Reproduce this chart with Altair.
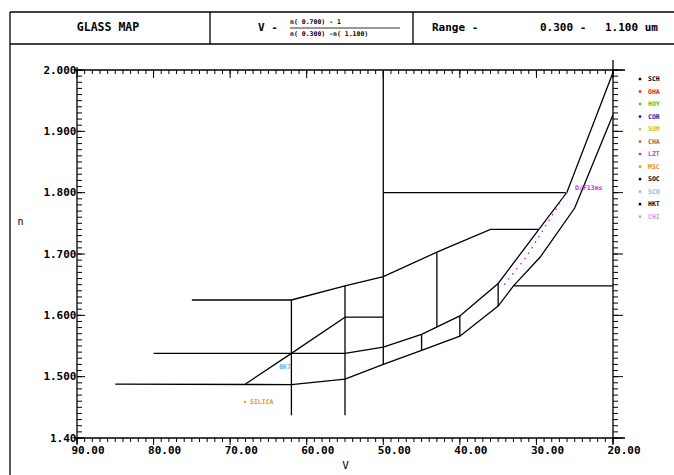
import altair as alt
import pandas as pd
import numpy as np

# ---------------- data ----------------
upper_v = [75, 62, 55, 50, 43, 36, 29.7]
upper_n = [1.625, 1.625, 1.648, 1.663, 1.703, 1.740, 1.740]
middle_v = [80, 62, 55, 50, 45, 40, 35, 26, 20]
middle_n = [1.538, 1.538, 1.538, 1.548, 1.569, 1.599, 1.652, 1.801, 1.996]
lower_v = [85, 62, 55, 50, 45, 40, 35, 33, 29.5, 25, 20]
lower_n = [1.488, 1.487, 1.496, 1.520, 1.543, 1.566, 1.615, 1.648, 1.695, 1.775, 1.927]
diag_v = [68, 62, 55]
diag_n = [1.488, 1.538, 1.597]
vert_v = [62, 55, 50, 45, 40, 35, 43]
vert_top = [1.625, 1.648, 2.000, 1.569, 1.599, 1.652, 1.703]
vert_bot = [1.437, 1.437, 1.520, 1.543, 1.566, 1.615, 1.581]
horiz_n = [1.800, 1.597, 1.648]
horiz_v1 = [50, 55, 33]
horiz_v2 = [26, 50, 20]

flint_v = [34.2, 31.3, 25.8]
flint_n = [1.650, 1.6955, 1.806]

glass_names = ["BK7", "SILICA", "D/F13ms"]
glass_v = [64.25, 68.06, 25.6]
glass_n = [1.5155, 1.459, 1.8075]
glass_colors = ["#6aaae8", "#e8902a", "#d42ad4"]

catalogs = ["SCH", "OHA", "HOY", "COR", "SUM", "CHA", "LZT", "MSC", "SOC", "SCO", "HKT", "CHI"]
catalog_colors = ["#000000", "#e02020", "#30d030", "#1818c8", "#c8c030", "#a06838",
                  "#d030d0", "#f08a28", "#000000", "#80b8f0", "#000000", "#c898e8"]

v_major = [90, 80, 70, 60, 50, 40, 30, 20]
n_major = [2.0, 1.9, 1.8, 1.7, 1.6, 1.5, 1.4]
v_minor = list(range(20, 91))
n_minor = [round(x, 2) for x in np.arange(1.40, 2.0001, 0.01)]

header_left = "GLASS MAP"
header_num = "n( 0.700)   - 1"
header_den = "n( 0.300) -n( 1.100)"
header_range = ["Range -", "0.300 -", "1.100 um"]

# ---------------- build tables ----------------
rows = []
def add(seg, vs, ns):
    for i, (v, n) in enumerate(zip(vs, ns)):
        rows.append({"seg": seg, "o": i, "V": v, "n": n})

add("upper", upper_v, upper_n)
add("middle", middle_v, middle_n)
add("lower", lower_v, lower_n)
add("diag", diag_v, diag_n)
for k in range(len(vert_v)):
    add(f"v{k}", [vert_v[k], vert_v[k]], [vert_top[k], vert_bot[k]])
for k in range(len(horiz_n)):
    add(f"h{k}", [horiz_v1[k], horiz_v2[k]], [horiz_n[k], horiz_n[k]])
lines_df = pd.DataFrame(rows)

W, H = 536, 368
FONT = "DejaVu Sans Mono"

xs = alt.Scale(domain=[20, 90], reverse=True, nice=False, zero=False)
ys = alt.Scale(domain=[1.4, 2.0], nice=False, zero=False)

xaxis = alt.Axis(values=v_major, format=".2f", grid=False, domain=False, ticks=False,
                 labelFont=FONT, labelFontSize=11, labelFontWeight="bold", labelColor="#000",
                 labelAlign="left", labelOffset=-6, labelPadding=6,
                 title="V", titleFont=FONT, titleFontSize=11, titleFontWeight="normal",
                 titlePadding=4)
yaxis = alt.Axis(values=n_major, grid=False, domain=False, ticks=False,
                 labelExpr="datum.value < 1.45 ? '1.40' : format(datum.value, '.3f')",
                 labelFont=FONT, labelFontSize=11, labelFontWeight="bold", labelColor="#000",
                 labelPadding=1,
                 title="n", titleFont=FONT, titleFontSize=10, titleFontWeight="normal",
                 titleAngle=0, titleX=-57, titleY=156)

lines = alt.Chart(lines_df).mark_line(color="black", strokeWidth=1.3).encode(
    x=alt.X("V:Q", scale=xs, axis=xaxis),
    y=alt.Y("n:Q", scale=ys, axis=yaxis),
    detail="seg:N",
    order="o:Q",
)

flint = alt.Chart(pd.DataFrame({"V": flint_v, "n": flint_n})).mark_line(
    color="#d42ad4", strokeWidth=1.5, strokeDash=[1.5, 5]).encode(
    x=alt.X("V:Q", scale=xs), y=alt.Y("n:Q", scale=ys))

gdf = pd.DataFrame({"name": glass_names, "V": glass_v, "n": glass_n, "c": glass_colors})
gdots = alt.Chart(gdf.iloc[1:2]).mark_circle(size=5, opacity=1).encode(
    x=alt.X("V:Q", scale=xs), y=alt.Y("n:Q", scale=ys), color=alt.Color("c:N", scale=None))
gtext = alt.Chart(gdf).mark_text(align="left", dx=5, font=FONT, fontSize=6.5, fontWeight="bold").encode(
    x=alt.X("V:Q", scale=xs), y=alt.Y("n:Q", scale=ys), text="name:N",
    color=alt.Color("c:N", scale=None))

# ticks
def tick_layer(vals, field, p1, p2):
    df = pd.DataFrame({field: vals})
    if field == "V":
        return alt.Chart(df).mark_rule(color="black", strokeWidth=1).encode(
            x=alt.X("V:Q", scale=xs), y=alt.value(p1), y2=alt.value(p2))
    return alt.Chart(df).mark_rule(color="black", strokeWidth=1).encode(
        y=alt.Y("n:Q", scale=ys), x=alt.value(p1), x2=alt.value(p2))

ticks = [
    tick_layer(v_minor, "V", H, H + 4), tick_layer(v_major, "V", H, H + 7),
    tick_layer(v_minor, "V", 0, 4), tick_layer(v_major, "V", 0, 8),
    tick_layer(n_minor, "n", 0, 5), tick_layer(n_major, "n", 0, 8),
    tick_layer(n_minor, "n", W, W + 5), tick_layer(n_major, "n", W, W + 10),
]

one = pd.DataFrame({"a": [0]})
def rule(x1, x2, y1, y2, w=1.3):
    return alt.Chart(one).mark_rule(color="black", strokeWidth=w).encode(
        x=alt.value(x1), x2=alt.value(x2), y=alt.value(y1), y2=alt.value(y2))

frame = [
    rule(-3, W + 12, H, H), rule(-3, W + 12, 0, 0),
    rule(0, 0, -3, H + 6), rule(W, W, -10, H + 6),
    # header box
    rule(-67, 600, -58, -58), rule(-67, 600, -26, -26),
    rule(-67, -67, -58, 410), rule(133, 133, -58, -26), rule(336, 336, -58, -26),
    rule(213, 323, -42, -42, 0.8),
]

def txt(s, x, y, align="left", size=11):
    return alt.Chart(one).mark_text(text=s, align=align, baseline="middle", font=FONT,
                                    fontSize=size, fontWeight="bold", color="black").encode(
        x=alt.value(x), y=alt.value(y))

header = [
    txt(header_left, 31, -42, align="center", size=11.5),
    txt("V -", 181, -42),
    txt(header_num, 213, -48, size=6.5),
    txt(header_den, 213, -36, size=6.5),
    txt(header_range[0], 355, -42),
    txt(header_range[1], 463, -42),
    txt(header_range[2], 528, -42),
]

ldf = pd.DataFrame({"cat": catalogs, "c": catalog_colors, "rank": list(range(len(catalogs)))})
leg_base = alt.Chart(ldf).transform_calculate(ly="1.9853 - datum.rank * 0.0204")
leg_pts = leg_base.mark_square(size=6, opacity=1).encode(
    x=alt.value(563), y=alt.Y("ly:Q", scale=ys), color=alt.Color("c:N", scale=None))
leg_txt = leg_base.mark_text(align="left", baseline="middle", font=FONT, fontSize=6.5,
                             fontWeight="bold").encode(
    x=alt.value(571), y=alt.Y("ly:Q", scale=ys), text="cat:N",
    color=alt.Color("c:N", scale=None))

chart = alt.layer(lines, flint, gdots, gtext, *ticks, *frame, *header, leg_pts, leg_txt).properties(
    width=W, height=H,
    autosize=alt.AutoSizeParams(type="none"),
    padding={"left": 77, "top": 70, "right": 61, "bottom": 37},
    background="white",
).configure_view(stroke=None)

chart.save("out.html", embed_options={"renderer": "svg", "actions": False})
